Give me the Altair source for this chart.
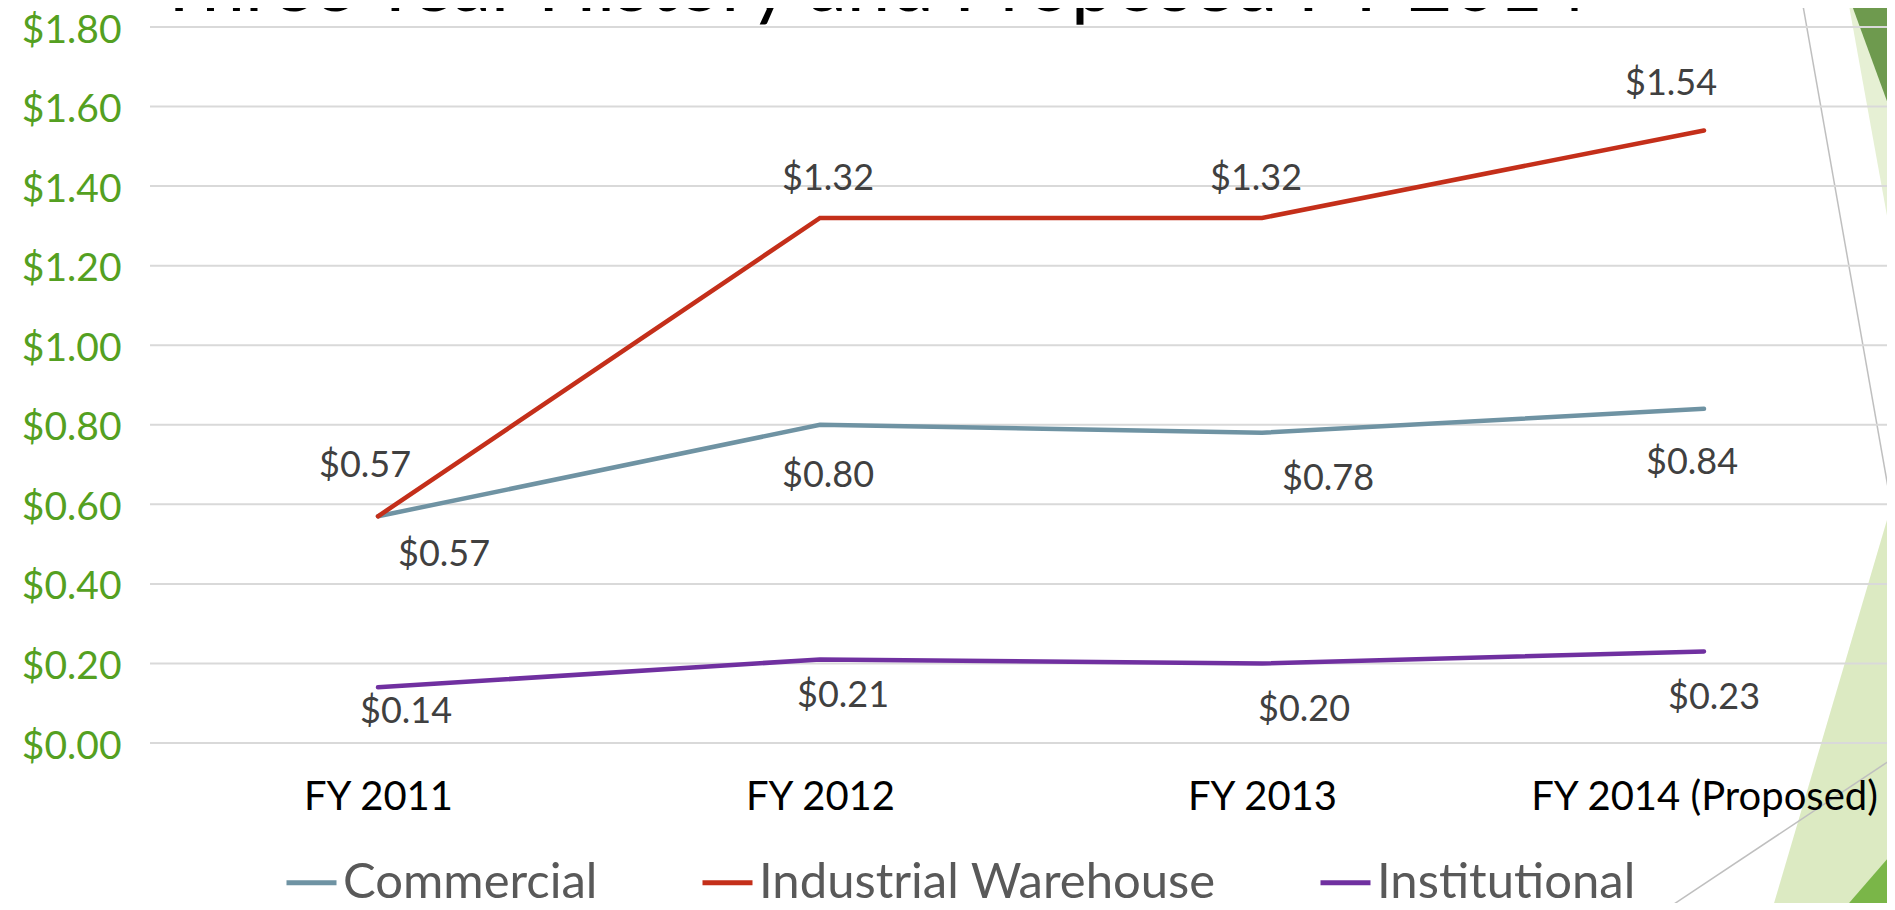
import altair as alt
import pandas as pd

# ---------------- data ----------------
years = ["FY 2011", "FY 2012", "FY 2013", "FY 2014 (Proposed)"]
series = ["Commercial", "Industrial Warehouse", "Institutional"]
commercial = [0.57, 0.80, 0.78, 0.84]
industrial = [0.57, 1.32, 1.32, 1.54]
institutional = [0.14, 0.21, 0.20, 0.23]
y_ticks = [0.0, 0.2, 0.4, 0.6, 0.8, 1.0, 1.2, 1.4, 1.6, 1.8]
title_text = "Three Year History and Proposed FY 2014"

# ---------------- styling ----------------
colors = ["#6F93A3", "#C42F1A", "#7030A0"]
FONT = "Lato"
# hand-placed data-label nudges (pixels, relative to each point)
label_dx = {"Commercial": [66, 8, 66, -12],
            "Industrial Warehouse": [-13, 8, -6, -33],
            "Institutional": [28, 23, 42, 10]}
label_dy = {"Commercial": [39, 51, 46, 54],
            "Industrial Warehouse": [-50, -39, -39, -46],
            "Institutional": [25, 37, 47, 46]}

rows = []
for s, vals in zip(series, [commercial, industrial, institutional]):
    for i, (yr, v) in enumerate(zip(years, vals)):
        rows.append({"year": yr, "series": s, "value": v, "order": i})
df = pd.DataFrame(rows)
ticks_df = pd.DataFrame({"value": y_ticks})
one = pd.DataFrame({"d": [0]})

W, H = 1737, 716

x_enc = alt.X("year:N", sort=years,
              scale=alt.Scale(type="point", domain=years, range=[228, 1554],
                              padding=0),
              axis=alt.Axis(title=None, labelFontSize=40, labelColor="#000000",
                            labelFont=FONT, domain=False, ticks=False, grid=False,
                            labelPadding=54, labelBaseline="middle", labelAngle=0,
                            labelLimit=0, zindex=1))
y_enc = alt.Y("value:Q", scale=alt.Scale(domain=[0, 1.8], nice=False, zero=True),
              axis=alt.Axis(values=y_ticks, format="$.2f", title=None, grid=False,
                            domain=False, ticks=False, labelFontSize=39,
                            labelColor="#54A021", labelFont=FONT, labelPadding=29,
                            labelBaseline="middle", labelOffset=3))

# slide decorations (background shapes of the slide)
def tri(path, color):
    return alt.Chart(one).mark_point(shape=path, size=4, filled=True, fill=color,
                                     opacity=1, strokeWidth=0).encode(
        x=alt.value(0), y=alt.value(0))

decor = [
    tri("M1698,-27L1745,-27L1745,233Z", "#E6F0D4"),
    tri("M1700,-27L1745,-27L1745,96Z", "#6E9A4E"),
    tri("M1622,883L1745,466L1745,883Z", "#DCEAC2"),
    tri("M1693,883L1745,823L1745,883Z", "#7AB648"),
    alt.Chart(one).mark_rule(color="#BFBFBF", strokeWidth=1.5).encode(
        x=alt.value(1652), x2=alt.value(1745), y=alt.value(-27), y2=alt.value(500)),
    alt.Chart(one).mark_rule(color="#BFBFBF", strokeWidth=1.5).encode(
        x=alt.value(1515), x2=alt.value(1745), y=alt.value(883), y2=alt.value(730)),
]

grid = alt.Chart(ticks_df).mark_rule(color="#D9D9D9", strokeWidth=2).encode(
    y=y_enc, x=alt.value(0), x2=alt.value(W + 10))

lines = alt.Chart(df).mark_line(strokeWidth=4.5, strokeCap="round").encode(
    x=x_enc, y=y_enc,
    order="order:Q",
    color=alt.Color("series:N", sort=series,
                    scale=alt.Scale(domain=series, range=colors),
                    legend=alt.Legend(orient="none", legendX=134, legendY=828,
                                      direction="horizontal", title=None,
                                      symbolType="stroke", symbolStrokeWidth=5,
                                      symbolSize=2500, labelFontSize=49,
                                      labelFont=FONT, labelColor="#595959",
                                      labelOffset=4, columnPadding=94,
                                      padding=0, labelLimit=0)))

label_layers = []
for s in series:
    for i, yr in enumerate(years):
        label_layers.append(
            alt.Chart(df).transform_filter(
                (alt.datum.series == s) & (alt.datum.year == yr)
            ).mark_text(fontSize=36, font=FONT, color="#404040", align="center",
                        baseline="middle", dx=label_dx[s][i], dy=label_dy[s][i]
            ).encode(x=x_enc, y=y_enc,
                     text=alt.Text("value:Q", format="$.2f")))

title = alt.Chart(pd.DataFrame({"t": [title_text]})).mark_text(
    fontSize=78, font=FONT, color="#000000", align="left",
    baseline="alphabetic").encode(x=alt.value(6), y=alt.value(-16), text="t:N")

chart = alt.layer(*decor, grid, lines, *label_layers, title).properties(
    width=W, height=H,
    autosize=alt.AutoSizeParams(type="none"),
    padding={"left": 142, "top": 19, "right": 0, "bottom": 160},
    background="#FFFFFF",
).configure_view(strokeWidth=0)

chart.save("out.html", embed_options={"renderer": "svg", "actions": False})
